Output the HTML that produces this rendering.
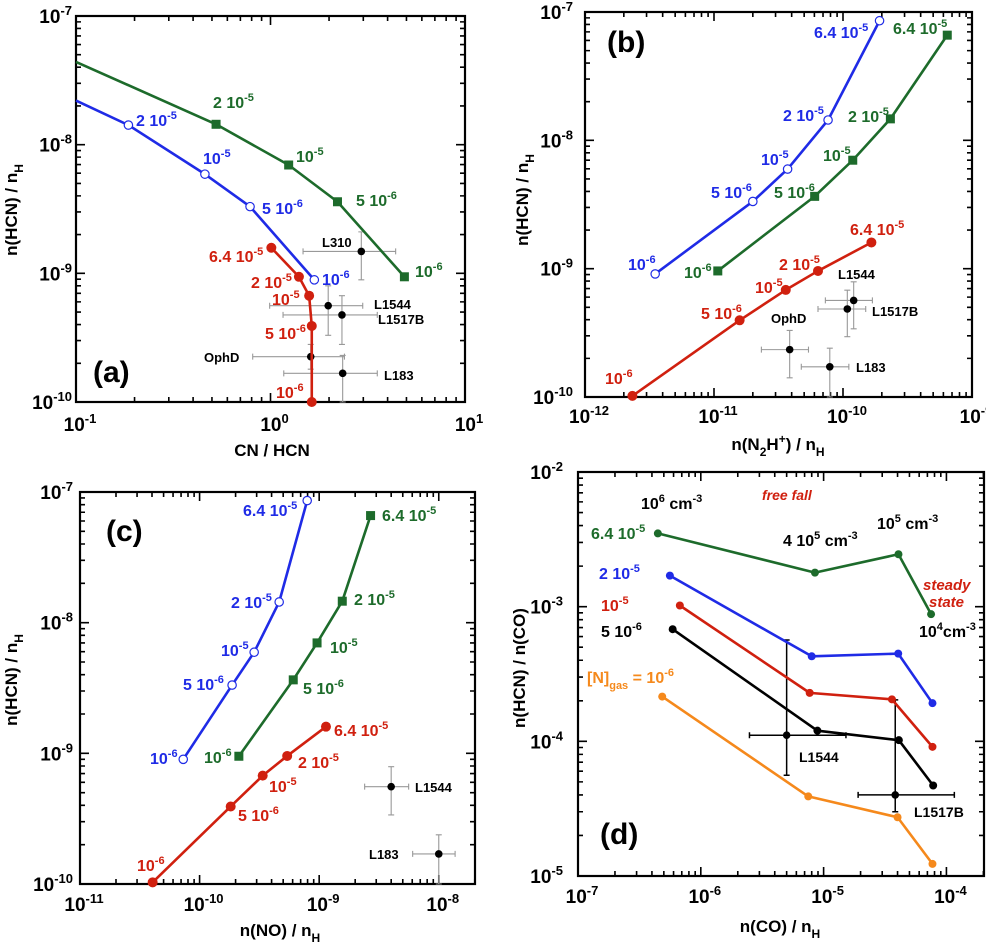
<!DOCTYPE html>
<html><head><meta charset="utf-8"><style>
html,body{margin:0;padding:0;background:#fff;}
svg{display:block;font-family:"Liberation Sans",Arial,sans-serif;}
</style></head><body>
<svg id="fig" width="986" height="943" viewBox="0 0 986 943" xmlns="http://www.w3.org/2000/svg"></svg>
<script>
// ---------- Panel (a) data ----------
const aBlueX=[0.1,0.186,0.46,0.785,1.68];
const aBlueY=[2.2e-8,1.42e-8,5.9e-9,3.3e-9,8.9e-10];
const aGreenX=[0.1,0.525,1.24,2.21,4.88];
const aGreenY=[4.4e-8,1.44e-8,6.95e-9,3.6e-9,9.4e-10];
const aRedX=[1.01,1.40,1.58,1.63,1.63];
const aRedY=[1.58e-9,9.4e-10,6.7e-10,3.9e-10,1.0e-10];
const aObsNames=['L310','L1544','L1517B','OphD','L183'];
const aObsX=[2.93,1.98,2.33,1.61,2.35];
const aObsY=[1.48e-9,5.6e-10,4.75e-10,2.25e-10,1.67e-10];
const aObsXlo=[1.47,0.99,1.16,0.81,1.17];
const aObsXhi=[4.4,2.98,3.54,2.4,3.54];
const aObsYlo=[8.9e-10,3.3e-10,2.8e-10,1.8e-10,1.0e-10];
const aObsYhi=[2.1e-9,8.0e-10,6.7e-10,2.8e-10,2.3e-10];
// ---------- Panel (b) data ----------
const bBlueX=[3.5e-12,2.0e-11,3.72e-11,7.66e-11,1.92e-10];
const bBlueY=[9.1e-10,3.34e-9,5.97e-9,1.44e-8,8.55e-8];
const bGreenX=[1.07e-11,6.03e-11,1.19e-10,2.33e-10,6.43e-10];
const bGreenY=[9.6e-10,3.66e-9,7.0e-9,1.47e-8,6.6e-8];
const bRedX=[2.33e-12,1.58e-11,3.6e-11,6.4e-11,1.66e-10];
const bRedY=[1.02e-10,3.96e-10,6.83e-10,9.6e-10,1.6e-9];
const bObsNames=['L1544','L1517B','OphD','L183'];
const bObsX=[1.21e-10,1.08e-10,3.86e-11,7.9e-11];
const bObsY=[5.66e-10,4.85e-10,2.34e-10,1.72e-10];
const bObsXlo=[7.3e-11,6.4e-11,2.33e-11,4.75e-11];
const bObsXhi=[1.69e-10,1.5e-10,5.4e-11,1.11e-10];
const bObsYlo=[3.4e-10,2.95e-10,1.41e-10,1.0e-10];
const bObsYhi=[7.9e-10,6.8e-10,3.3e-10,2.4e-10];
// ---------- Panel (c) data ----------
const cBlueX=[7.3e-11,1.87e-10,2.86e-10,4.63e-10,7.94e-10];
const cBlueY=[9.0e-10,3.33e-9,5.94e-9,1.44e-8,8.6e-8];
const cGreenX=[2.13e-10,6.07e-10,9.6e-10,1.56e-9,2.69e-9];
const cGreenY=[9.5e-10,3.65e-9,7.0e-9,1.46e-8,6.6e-8];
const cRedX=[4.05e-11,1.82e-10,3.37e-10,5.4e-10,1.14e-9];
const cRedY=[1.03e-10,3.92e-10,6.75e-10,9.55e-10,1.6e-9];
const cObsNames=['L1544','L183'];
const cObsX=[4.0e-9,1.0e-8];
const cObsY=[5.56e-10,1.7e-10];
const cObsXlo=[2.4e-9,6.05e-9];
const cObsXhi=[5.6e-9,1.37e-8];
const cObsYlo=[3.38e-10,1.0e-10];
const cObsYhi=[7.9e-10,2.38e-10];
// ---------- Panel (d) data ----------
const dGreenX=[4.47e-7,8.5e-6,4.07e-5,7.5e-5];
const dGreenY=[3.5e-3,1.79e-3,2.45e-3,8.8e-4];
const dBlueX=[5.6e-7,8.0e-6,4.05e-5,7.7e-5];
const dBlueY=[1.7e-3,4.28e-4,4.48e-4,1.92e-4];
const dRedX=[6.75e-7,7.7e-6,3.6e-5,7.7e-5];
const dRedY=[1.02e-3,2.29e-4,2.05e-4,9.1e-5];
const dBlackX=[5.9e-7,8.9e-6,4.1e-5,7.8e-5];
const dBlackY=[6.8e-4,1.2e-4,1.02e-4,4.7e-5];
const dOrangeX=[4.85e-7,7.5e-6,4.0e-5,7.7e-5];
const dOrangeY=[2.15e-4,3.9e-5,2.73e-5,1.23e-5];
const dObsNames=['L1544','L1517B'];
const dObsX=[5.0e-6,3.83e-5];
const dObsY=[1.11e-4,4.0e-5];
const dObsXlo=[2.49e-6,1.91e-5];
const dObsXhi=[1.52e-5,1.16e-4];
const dObsYlo=[5.6e-5,3.0e-5];
const dObsYhi=[5.66e-4,2.03e-4];

const BLUE='#1f2be6',GREEN='#1d6b2b',RED='#d0200f',ORANGE='#f5891c',BLK='#000';
const NS='http://www.w3.org/2000/svg';
const svg=document.getElementById('fig');
function el(tag,parent){const e=document.createElementNS(NS,tag);parent.appendChild(e);return e;}
function txt(parent,x,y,str,size,fill,anchor,italic,rot){
  const t=el('text',parent);
  t.setAttribute('x',x);t.setAttribute('y',y);
  t.setAttribute('font-size',size);t.setAttribute('font-weight','bold');
  t.setAttribute('fill',fill||'#000');
  if(anchor)t.setAttribute('text-anchor',anchor);
  if(italic)t.setAttribute('font-style','italic');
  if(rot)t.setAttribute('transform','rotate(-90 '+x+' '+y+')');
  const re=/(\^|_)\{([^}]*)\}/g;let last=0,m,shift=0;
  while((m=re.exec(str))){
    if(m.index>last){const s=el('tspan',t);s.setAttribute('dy',-shift);shift=0;s.textContent=str.slice(last,m.index);}
    const s=el('tspan',t);const d=m[1]==='^'?-Math.round(size*0.42):Math.round(size*0.35);
    s.setAttribute('dy',d-shift);shift=d;s.setAttribute('font-size',Math.round(size*0.68));s.textContent=m[2];
    last=re.lastIndex;
  }
  if(last<str.length){const s=el('tspan',t);s.setAttribute('dy',-shift);s.textContent=str.slice(last);}
  return t;
}
function makeAxes(g,P){
  const L=Math.log10;
  P.xs=v=>P.x0+(L(v)-P.lx0)/(P.lx1-P.lx0)*(P.x1-P.x0);
  P.ys=v=>P.y1-(L(v)-P.ly0)/(P.ly1-P.ly0)*(P.y1-P.y0);
  const ax=el('g',g);
  
  
  const r=el('rect',ax);
  r.setAttribute('x',P.x0);r.setAttribute('y',P.y0);r.setAttribute('width',P.x1-P.x0);r.setAttribute('height',P.y1-P.y0);
  r.setAttribute('fill','none');r.setAttribute('stroke','#000');r.setAttribute('stroke-width',2.2);
  let path='';
  for(let d=Math.floor(P.lx0);d<=Math.ceil(P.lx1);d++)for(let m=1;m<10;m++){
    const lv=d+Math.log10(m);if(lv<P.lx0-1e-9||lv>P.lx1+1e-9)continue;
    const x=P.x0+(lv-P.lx0)/(P.lx1-P.lx0)*(P.x1-P.x0);const len=m===1?9:5;
    path+='M'+x+' '+P.y1+'v'+(-len)+'M'+x+' '+P.y0+'v'+len;
  }
  for(let d=Math.floor(P.ly0);d<=Math.ceil(P.ly1);d++)for(let m=1;m<10;m++){
    const lv=d+Math.log10(m);if(lv<P.ly0-1e-9||lv>P.ly1+1e-9)continue;
    const y=P.y1-(lv-P.ly0)/(P.ly1-P.ly0)*(P.y1-P.y0);const len=m===1?9:5;
    path+='M'+P.x0+' '+y+'h'+len+'M'+P.x1+' '+y+'h'+(-len);
  }
  const tk=el('path',ax);tk.setAttribute('d',path);tk.setAttribute('stroke','#000');tk.setAttribute('stroke-width',1.6);
  for(let d=Math.ceil(P.lx0);d<=Math.floor(P.lx1);d++){
    const x=P.x0+(d-P.lx0)/(P.lx1-P.lx0)*(P.x1-P.x0);
    const t=txt(ax,x+4,P.xty,'10^{'+d+'}',19,'#000','middle');
    
    
  }
  for(let d=Math.ceil(P.ly0);d<=Math.floor(P.ly1);d++){
    const y=P.y1-(d-P.ly0)/(P.ly1-P.ly0)*(P.y1-P.y0);
    const t=txt(ax,P.ytx,y+7,'10^{'+d+'}',19,'#000','end');
    
    
  }
  const xt=txt(ax,P.xtitle[0],P.xtitle[1],P.xtitle[2],17,'#000','middle');
  
  
  const yt=txt(ax,P.ytitle[0],P.ytitle[1],P.ytitle[2],17,'#000','middle',false,true);
  
  
  const pl=txt(ax,P.plab[0],P.plab[1],P.plab[2],30,'#000','start');
  
  
}
function series(g,P,X,Y,color,marker,name){
  const s=el('g',g);
  
  
  const pl=el('polyline',s);
  pl.setAttribute('points',X.map((v,i)=>P.xs(v)+','+P.ys(Y[i])).join(' '));
  pl.setAttribute('fill','none');pl.setAttribute('stroke',color);pl.setAttribute('stroke-width',2.6);pl.setAttribute('stroke-linejoin','round');
  X.forEach((v,i)=>{
    const x=P.xs(v),y=P.ys(Y[i]);
    if(x<=P.x0+1)return;
    let m;
    if(marker==='sq'){m=el('rect',s);m.setAttribute('x',x-4.5);m.setAttribute('y',y-4.5);m.setAttribute('width',9);m.setAttribute('height',9);m.setAttribute('fill',color);}
    else{m=el('circle',s);m.setAttribute('cx',x);m.setAttribute('cy',y);
      if(marker==='open'){m.setAttribute('r',4.2);m.setAttribute('fill','#fff');m.setAttribute('stroke',color);m.setAttribute('stroke-width',1.2);}
      else if(marker==='big'){m.setAttribute('r',5);m.setAttribute('fill',color);}
      else{m.setAttribute('r',4);m.setAttribute('fill',color);}}
    
    
  });
}
function obs(g,P,N,X,Y,XL,XH,YL,YH,col,w){
  N.forEach((n,i)=>{
    const s=el('g',g);
    
    
    const p=el('path',s);
    const x=P.xs(X[i]),y=P.ys(Y[i]);
    p.setAttribute('d','M'+P.xs(XL[i])+' '+y+'H'+P.xs(XH[i])+'M'+x+' '+P.ys(YL[i])+'V'+P.ys(YH[i])
      +'M'+P.xs(XL[i])+' '+(y-3)+'v6M'+P.xs(XH[i])+' '+(y-3)+'v6M'+(x-3)+' '+P.ys(YL[i])+'h6M'+(x-3)+' '+P.ys(YH[i])+'h6');
    p.setAttribute('stroke',col);p.setAttribute('stroke-width',w);p.setAttribute('fill','none');
    const c=el('circle',s);c.setAttribute('cx',x);c.setAttribute('cy',y);c.setAttribute('r',3.8);c.setAttribute('fill','#000');
  });
}
function labels(g,list){
  list.forEach(l=>{
    const t=txt(g,l[0],l[1],l[2],l[4]||16,l[3],'start',l[5]);
    
    
  });
}
function panel(name){const g=el('g',svg);return g;}

// ---- Panel a ----
const gA=panel('panel-a');
const PA={x0:76,x1:465,y0:16,y1:402,lx0:-1,lx1:1,ly0:-10,ly1:-7,xty:431,ytx:72,
  xtitle:[272,456,'CN / HCN'],ytitle:[17,210,'n(HCN) / n_{H}'],plab:[93,382,'(a)']};
makeAxes(gA,PA);
obs(gA,PA,aObsNames,aObsX,aObsY,aObsXlo,aObsXhi,aObsYlo,aObsYhi,'#999',1.1);
series(gA,PA,aGreenX,aGreenY,GREEN,'sq','green-series');
series(gA,PA,aBlueX,aBlueY,BLUE,'open','blue-series');
series(gA,PA,aRedX,aRedY,RED,'big','red-series');
labels(gA,[[136,126,'2 10^{-5}',BLUE],[203,164,'10^{-5}',BLUE],[262,214,'5 10^{-6}',BLUE],[322,285,'10^{-6}',BLUE],
 [213,108,'2 10^{-5}',GREEN],[296,162,'10^{-5}',GREEN],[356,206,'5 10^{-6}',GREEN],[415,277,'10^{-6}',GREEN],
 [209,262,'6.4 10^{-5}',RED],[251,288,'2 10^{-5}',RED],[272,305,'10^{-5}',RED],[265,339,'5 10^{-6}',RED],[276,398,'10^{-6}',RED],
 [322,247,'L310',BLK,13],[374,309,'L1544',BLK,13],[378,324,'L1517B',BLK,13],[204,362,'OphD',BLK,13],[384,380,'L183',BLK,13]]);

// ---- Panel b ----
const gB=panel('panel-b');
const PB={x0:585,x1:972,y0:12,y1:397,lx0:-12,lx1:-9,ly0:-10,ly1:-7,xty:423,ytx:573,
  xtitle:[778,450,'n(N_{2}H^{+}) / n_{H}'],ytitle:[528,200,'n(HCN) / n_{H}'],plab:[607,52,'(b)']};
makeAxes(gB,PB);
obs(gB,PB,bObsNames,bObsX,bObsY,bObsXlo,bObsXhi,bObsYlo,bObsYhi,'#999',1.1);
series(gB,PB,bGreenX,bGreenY,GREEN,'sq','green-series');
series(gB,PB,bBlueX,bBlueY,BLUE,'open','blue-series');
series(gB,PB,bRedX,bRedY,RED,'big','red-series');
labels(gB,[[814,38,'6.4 10^{-5}',BLUE],[783,121,'2 10^{-5}',BLUE],[761,165,'10^{-5}',BLUE],[711,198,'5 10^{-6}',BLUE],[628,270,'10^{-6}',BLUE],
 [893,34,'6.4 10^{-5}',GREEN],[848,122,'2 10^{-5}',GREEN],[823,161,'10^{-5}',GREEN],[774,198,'5 10^{-6}',GREEN],[684,278,'10^{-6}',GREEN],
 [850,235,'6.4 10^{-5}',RED],[779,270,'2 10^{-5}',RED],[755,293,'10^{-5}',RED],[701,319,'5 10^{-6}',RED],[605,384,'10^{-6}',RED],
 [838,279,'L1544',BLK,13],[872,316,'L1517B',BLK,13],[771,323,'OphD',BLK,13],[856,372,'L183',BLK,13]]);

// ---- Panel c ----
const gC=panel('panel-c');
const PC={x0:80,x1:475,y0:492,y1:884,lx0:-11,lx1:-7.697,ly0:-10,ly1:-7,xty:911,ytx:73,
  xtitle:[280,936,'n(NO) / n_{H}'],ytitle:[17,680,'n(HCN) / n_{H}'],plab:[106,541,'(c)']};
makeAxes(gC,PC);
obs(gC,PC,cObsNames,cObsX,cObsY,cObsXlo,cObsXhi,cObsYlo,cObsYhi,'#999',1.1);
series(gC,PC,cGreenX,cGreenY,GREEN,'sq','green-series');
series(gC,PC,cBlueX,cBlueY,BLUE,'open','blue-series');
series(gC,PC,cRedX,cRedY,RED,'big','red-series');
labels(gC,[[243,516,'6.4 10^{-5}',BLUE],[231,608,'2 10^{-5}',BLUE],[221,656,'10^{-5}',BLUE],[183,690,'5 10^{-6}',BLUE],[150,764,'10^{-6}',BLUE],
 [382,521,'6.4 10^{-5}',GREEN],[354,605,'2 10^{-5}',GREEN],[330,653,'10^{-5}',GREEN],[303,694,'5 10^{-6}',GREEN],[204,763,'10^{-6}',GREEN],
 [334,736,'6.4 10^{-5}',RED],[298,768,'2 10^{-5}',RED],[269,792,'10^{-5}',RED],[238,821,'5 10^{-6}',RED],[137,871,'10^{-6}',RED],
 [415,792,'L1544',BLK,13],[369,859,'L183',BLK,13]]);

// ---- Panel d ----
const gD=panel('panel-d');
const PD={x0:578,x1:984,y0:472,y1:876,lx0:-7,lx1:-3.694,ly0:-5,ly1:-2,xty:903,ytx:563,
  xtitle:[780,932,'n(CO) / n_{H}'],ytitle:[525,668,'n(HCN) / n(CO)'],plab:[600,844,'(d)']};
makeAxes(gD,PD);
obs(gD,PD,dObsNames,dObsX,dObsY,dObsXlo,dObsXhi,dObsYlo,dObsYhi,'#000',1.5);
series(gD,PD,dGreenX,dGreenY,GREEN,'dot','green-series');
series(gD,PD,dBlueX,dBlueY,BLUE,'dot','blue-series');
series(gD,PD,dRedX,dRedY,RED,'dot','red-series');
series(gD,PD,dBlackX,dBlackY,BLK,'dot','black-series');
series(gD,PD,dOrangeX,dOrangeY,ORANGE,'dot','orange-series');
labels(gD,[[641,509,'10^{6} cm^{-3}',BLK],[762,500,'free fall',RED,14,true],[591,539,'6.4 10^{-5}',GREEN],[783,546,'4 10^{5} cm^{-3}',BLK],
 [877,529,'10^{5} cm^{-3}',BLK],[599,579,'2 10^{-5}',BLUE],[923,590,'steady',RED,15,true],[929,607,'state',RED,15,true],
 [601,611,'10^{-5}',RED],[919,637,'10^{4}cm^{-3}',BLK],[601,637,'5 10^{-6}',BLK],[587,683,'[N]_{gas} = 10^{-6}',ORANGE],
 [799,762,'L1544',BLK,14],[914,817,'L1517B',BLK,14]]);
</script>
</body></html>
